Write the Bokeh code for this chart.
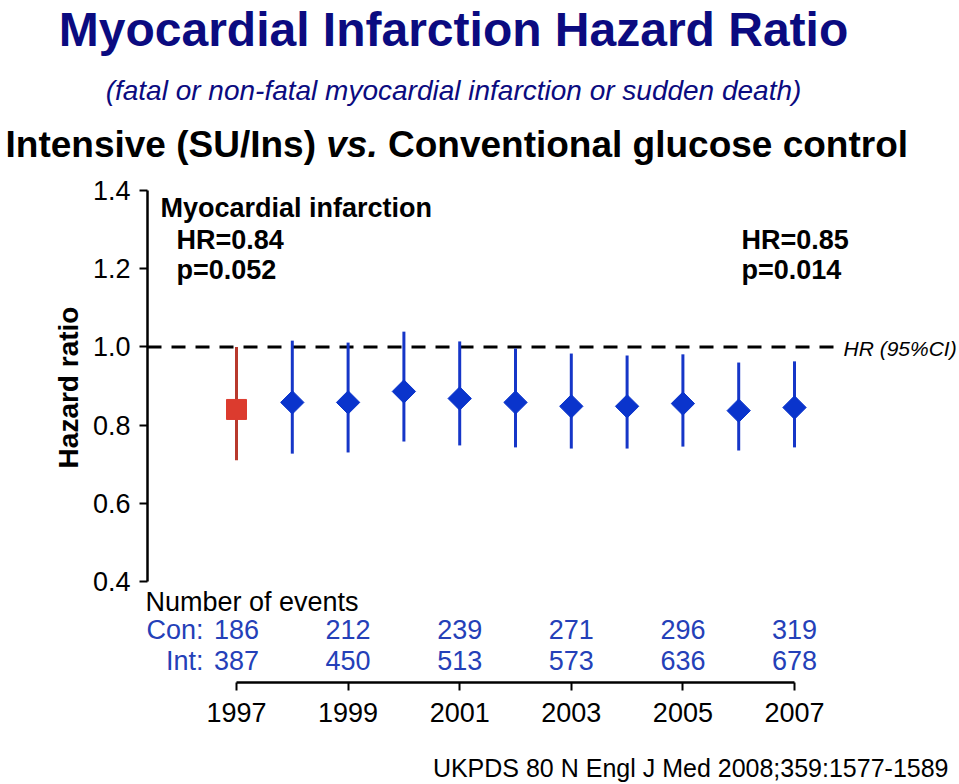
import numpy as np
from bokeh.plotting import figure
from bokeh.models import Label, FixedTicker, PrintfTickFormatter, ColumnDataSource, Range1d
from bokeh.embed import file_html
from bokeh.resources import INLINE

# ---------------- data ----------------
years = [1997, 1998, 1999, 2000, 2001, 2002, 2003, 2004, 2005, 2006, 2007]
hr = [0.840, 0.858, 0.858, 0.886, 0.868, 0.858, 0.848, 0.848, 0.855, 0.837, 0.845]
ci_low = [0.710, 0.727, 0.730, 0.758, 0.748, 0.743, 0.740, 0.740, 0.745, 0.735, 0.743]
ci_high = [1.000, 1.016, 1.011, 1.039, 1.014, 0.996, 0.983, 0.978, 0.981, 0.960, 0.963]

event_years = [1997, 1999, 2001, 2003, 2005, 2007]
con_events = [186, 212, 239, 271, 296, 319]
int_events = [387, 450, 513, 573, 636, 678]

y_ticks = [0.4, 0.6, 0.8, 1.0, 1.2, 1.4]
x_ticks = [1997, 1999, 2001, 2003, 2005, 2007]
ref_hr = 1.0

title = "Myocardial Infarction Hazard Ratio"
subtitle = "(fatal or non-fatal myocardial infarction or sudden death)"
line3 = ["Intensive (SU/Ins)", "vs.", "Conventional glucose control"]
footnote = "UKPDS 80 N Engl J Med 2008;359:1577-1589"

# ---------------- layout ----------------
W, H = 959, 784
YAXIS_PX, XAXIS_PX = 147, 682      # canvas px of the y axis line / x axis line
X0_PX, PX_PER_YEAR = 236, 55.8     # canvas px of 1997
Y0_PX, PX_PER_HR = 190, 391.0      # canvas px of HR 1.4
BASE_K = 0.36                      # label anchor correction (fraction of font size)


def dx(cx):
    return x_ticks[0] + (cx - X0_PX) / PX_PER_YEAR


def dy(cy):
    return y_ticks[-1] - (cy - Y0_PX) / PX_PER_HR


FONT = "Liberation Sans"
NAVY = "#0b0b80"
BLUE = "#1636c8"
NUMBLUE = "#2440b8"

p = figure(width=W, height=H, output_backend="svg", toolbar_location=None,
           x_range=Range1d(dx(0), dx(W)), y_range=Range1d(dy(H), dy(0)),
           min_border=0, min_border_left=0, min_border_right=0,
           min_border_top=0, min_border_bottom=0)
p.outline_line_color = None
p.grid.visible = False
p.background_fill_color = "white"
p.border_fill_color = "white"

# y axis
ya = p.yaxis[0]
ya.fixed_location = dx(YAXIS_PX)
ya.ticker = FixedTicker(ticks=y_ticks)
ya.bounds = (y_ticks[0], y_ticks[-1])
ya.formatter = PrintfTickFormatter(format="%.1f")
ya.major_label_text_font = FONT
ya.major_label_text_font_size = "27px"
ya.major_label_text_color = "black"
ya.major_label_standoff = 9
ya.axis_line_width = 2.5
ya.major_tick_line_width = 2
ya.major_tick_out = 8
ya.major_tick_in = 0
ya.minor_tick_line_color = None

# x axis
xa = p.xaxis[0]
xa.fixed_location = dy(XAXIS_PX)
xa.ticker = FixedTicker(ticks=x_ticks)
xa.bounds = (x_ticks[0], x_ticks[-1])
xa.formatter = PrintfTickFormatter(format="%d")
xa.major_label_text_font = FONT
xa.major_label_text_font_size = "27px"
xa.major_label_text_color = "black"
xa.major_label_standoff = 12
xa.axis_line_width = 2.5
xa.major_tick_line_width = 2
xa.major_tick_out = 8
xa.major_tick_in = 0
xa.minor_tick_line_color = None

# reference line at HR = 1
p.line(x=[dx(YAXIS_PX), years[-1] + 0.73], y=[ref_hr, ref_hr], line_color="black",
       line_width=3, line_dash="14 10")

# first (1997) estimate: red square
p.segment(x0=years[:1], y0=ci_low[:1], x1=years[:1], y1=ci_high[:1],
          line_color="#b8392d", line_width=3)
p.scatter(x=years[:1], y=hr[:1], marker="square", size=20,
          fill_color="#dc3b2e", line_color="#dc3b2e")

# later estimates: blue diamonds
src = ColumnDataSource(dict(x=years[1:], y=hr[1:], lo=ci_low[1:], hi=ci_high[1:]))
p.segment(x0="x", y0="lo", x1="x", y1="hi", source=src, line_color=BLUE, line_width=3)
p.scatter(x="x", y="y", source=src, marker="square", angle=np.pi / 4, size=16.5,
          fill_color="#0a34cc", line_color="#0a34cc")


def lab(text, cx, cy, size, color="black", style="normal", align="left", angle=0.0,
        data_x=None):
    if angle == 0.0:
        cy = cy - BASE_K * size
    x = data_x if data_x is not None else dx(cx)
    p.add_layout(Label(x=x, y=dy(cy), text=text, text_font=FONT,
                       text_font_size=f"{size}px", text_color=color,
                       text_font_style=style, text_align=align, angle=angle,
                       text_baseline="alphabetic"))


# titles
lab(title, 453, 46, 48, NAVY, "bold", "center")
lab(subtitle, 453, 100, 28, NAVY, "italic", "center")
fs3 = 37
x3 = 5
lab(line3[0], x3, 157, fs3, "black", "bold")
lab(line3[1], x3 + 8.669 * fs3, 157, fs3, "black", "bold italic")
lab(line3[2], x3 + (8.669 + 1.39 + 0.278) * fs3, 157, fs3, "black", "bold")

# y axis title
lab("Hazard ratio", 68, 387, 28, "black", "bold", "center", angle=np.pi / 2)

# in-panel annotations
lab("Myocardial infarction", 160, 217, 27, "black", "bold")
lab("HR=0.84", 176, 249, 27, "black", "bold")
lab("p=0.052", 176, 279, 27, "black", "bold")
lab("HR=0.85", 741, 249, 27, "black", "bold")
lab("p=0.014", 741, 279, 27, "black", "bold")
lab("HR (95%CI)", 843, 356, 21, "black", "italic")

# number of events table
lab("Number of events", 145, 611, 27)
lab("Con:", 203, 639, 27, NUMBLUE, align="right")
lab("Int:", 203, 670, 27, NUMBLUE, align="right")
for yr, c, i in zip(event_years, con_events, int_events):
    lab(str(c), None, 639, 27, NUMBLUE, align="center", data_x=yr)
    lab(str(i), None, 670, 27, NUMBLUE, align="center", data_x=yr)

# footnote
lab(footnote, 948, 776, 25, "black", "normal", "right")

open("out.html", "w").write(file_html(p, INLINE))
